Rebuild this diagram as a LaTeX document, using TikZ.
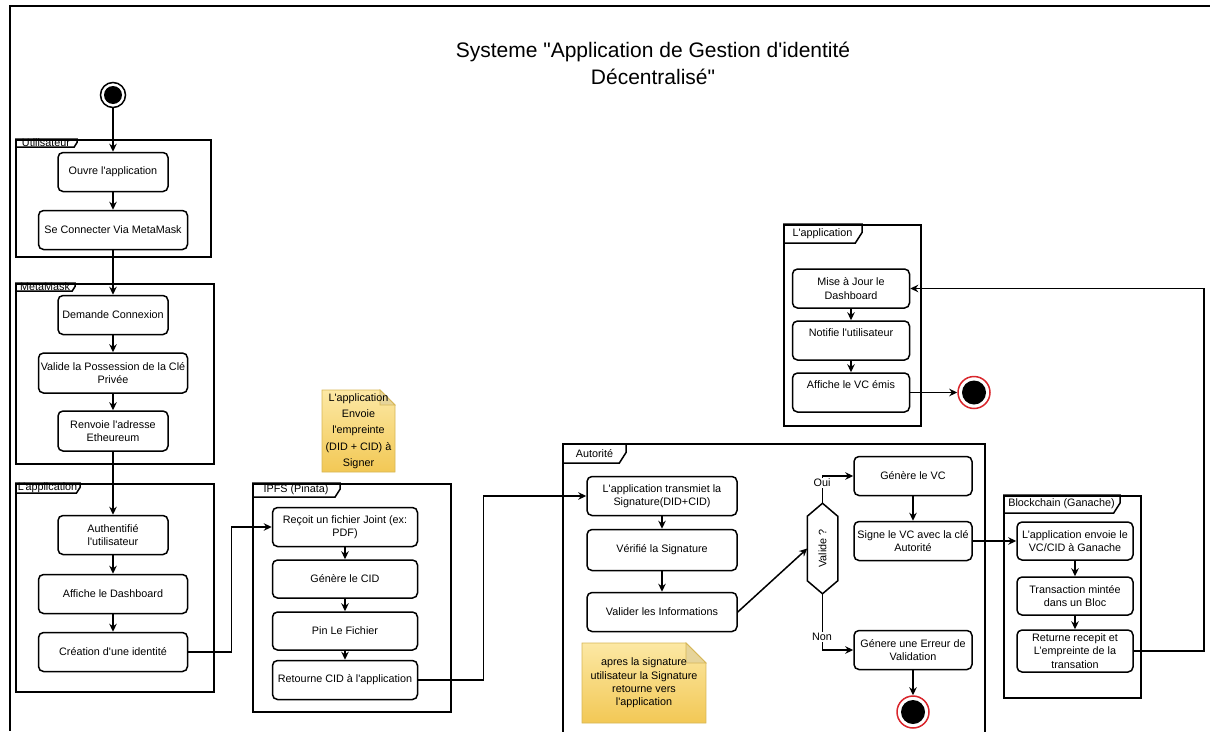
\documentclass[tikz,border=0pt]{standalone}
\usepackage{fontspec}
\newfontfamily\arialfont{Liberation Sans}
\usetikzlibrary{arrows.meta,calc}
\definecolor{noteTop}{HTML}{FCE8A4}
\definecolor{noteBot}{HTML}{F2C855}
\definecolor{noteLine}{HTML}{D6B656}
\definecolor{noteFold}{HTML}{E6D49A}
\definecolor{endRed}{HTML}{D9262C}
\newcommand\actfont{\arialfont\fontsize{10.8}{13.3}\selectfont}
% lane tab: #1 corner point, #2 tab width, #3 tab height, #4 node name, #5 label
\newcommand\lanetab[5]{%
  \draw[line width=1.5pt] #1 -- ++(#2,0) -- ++(0,{0.45*#3}) -- ++({-0.35*#3},{0.55*#3}) -- ($#1+(0,#3)$);
  \node[tabtext] (#4) at ($#1+({#2/2},{#3/2})$) {#5};}

\begin{document}
\begin{tikzpicture}[x=1pt,y=-1pt,line width=1.5pt,
  every node/.style={font=\actfont},
  act/.style={draw, rounded corners=5pt, align=center, inner sep=1pt, line width=1.5pt},
  lanebox/.style={draw, line width=1.5pt, anchor=north west, inner sep=0pt},
  tabtext/.style={inner sep=0pt},
  flow/.style={-{Stealth[length=8pt,width=7.5pt]}, line width=1.5pt},
  startdot/.style={circle, draw, fill=white, minimum size=25pt, inner sep=0pt, line width=1.5pt},
  enddot/.style={circle, draw=endRed, fill=white, minimum size=32pt, inner sep=0pt, line width=1.5pt},
  guard/.style={fill=white, inner sep=1pt},
  notetext/.style={align=center, inner sep=0pt},
  notebody/.style={top color=noteTop, bottom color=noteBot, draw=noteLine, line width=0.8pt},
]
\useasboundingbox (0,0) rectangle (1210,731);

% outer frame
\draw[line width=2.5pt] (1210,6) -- (10,6) -- (10,731);

% title
\node[font=\arialfont\fontsize{21}{27}\selectfont, align=center] (title) at (653,63.5)
  {Systeme "Application de Gestion d'identité\\Décentralisé"};

% swimlanes
\node[lanebox, minimum width=195pt, minimum height=117pt] (lUser) at (15,139) {};
\lanetab{(lUser.north west)}{62}{8}{tUser}{Utilisateur}
\node[lanebox, minimum width=198pt, minimum height=180pt] (lMeta) at (15,283) {};
\lanetab{(lMeta.north west)}{60}{8}{tMeta}{MetaMask}
\node[lanebox, minimum width=198pt, minimum height=208pt] (lApp) at (15,483) {};
\lanetab{(lApp.north west)}{65}{10}{tApp}{L’application}
\node[lanebox, minimum width=198pt, minimum height=228pt] (lIpfs) at (252,483) {};
\lanetab{(lIpfs.north west)}{88}{14}{tIpfs}{IPFS (Pinata)}
\draw (563,740) -- (563,444) -- (985,444) -- (985,740);
\coordinate (lAuth) at (563,444);
\lanetab{(lAuth)}{63}{19}{tAuth}{Autorité}
\node[lanebox, minimum width=137pt, minimum height=202pt] (lBc) at (1003,495) {};
\lanetab{(lBc.north west)}{117}{18}{tBc}{Blockchain (Ganache)}
\node[lanebox, minimum width=137pt, minimum height=201pt] (lTop) at (783,224) {};
\lanetab{(lTop.north west)}{79}{19}{tTop}{L'application}

% start state
\node[startdot] (start) at (113,95) {};
\fill (start.center) circle (9pt);

% Utilisateur
\node[act, minimum width=110pt, minimum height=39pt] (open) at (113,172) {Ouvre l'application};
\node[act, minimum width=149pt, minimum height=39pt] (connect) at (113,230) {Se Connecter Via MetaMask};

% MetaMask
\node[act, minimum width=110pt, minimum height=39pt] (ask) at (113,315) {Demande Connexion};
\node[act, minimum width=149pt, minimum height=40pt] (keychk) at (113,373) {Valide la Possession de la Clé\\Privée};
\node[act, minimum width=110pt, minimum height=40pt] (addr) at (113,431) {Renvoie l'adresse\\Etheureum};

% L'application (left)
\node[act, minimum width=110pt, minimum height=39pt] (auth) at (113,535) {Authentifié\\l'utilisateur};
\node[act, minimum width=149pt, minimum height=39pt] (dash) at (113,594) {Affiche le Dashboard};
\node[act, minimum width=149pt, minimum height=39pt] (ident) at (113,652) {Création d'une identité};

% IPFS
\node[act, minimum width=145pt, minimum height=39pt] (recv) at (345,527) {Reçoit un fichier Joint (ex:\\PDF)};
\node[act, minimum width=145pt, minimum height=38pt] (cid) at (345,579) {Génère le CID};
\node[act, minimum width=145pt, minimum height=38pt] (pin) at (345,631) {Pin Le Fichier};
\node[act, minimum width=145pt, minimum height=39pt] (ret) at (345,680) {Retourne CID à l'application};

% Autorité
\node[act, minimum width=150pt, minimum height=39pt] (send) at (662,496) {L'application transmiet la\\Signature(DID+CID)};
\node[act, minimum width=150pt, minimum height=41pt] (verif) at (662,550) {Vérifié la Signature};
\node[act, minimum width=150pt, minimum height=39pt] (infochk) at (662,612) {Valider les Informations};
\node[minimum width=29pt, minimum height=89pt, inner sep=0pt] (valid) at (822.5,548.5) {\rotatebox{90}{Valide ?}};
\draw (valid.north) -- ($(valid.north east)+(0,13)$) -- ($(valid.south east)+(0,-13)$)
  -- (valid.south) -- ($(valid.south west)+(0,-13)$) -- ($(valid.north west)+(0,13)$) -- cycle;
\node[act, minimum width=118pt, minimum height=39pt] (genvc) at (913,476) {Génère le VC};
\node[act, minimum width=118pt, minimum height=39pt] (sign) at (913,541) {Signe le VC avec la clé\\Autorité};
\node[act, minimum width=118pt, minimum height=39pt] (generr) at (913,650) {Génere une Erreur de\\Validation};
\node[enddot] (end1) at (913,712) {};
\fill (end1.center) circle (12pt);

% Blockchain
\node[act, minimum width=116pt, minimum height=38pt] (bcsend) at (1075,541) {L’application envoie le\\VC/CID à Ganache};
\node[act, minimum width=116pt, minimum height=38pt] (bcmint) at (1075,596) {Transaction mintée\\dans un Bloc};
\node[act, minimum width=116pt, minimum height=42pt] (bcret) at (1075,651) {Returne recepit et\\L’empreinte de la\\transation};

% L'application (top)
\node[act, minimum width=117pt, minimum height=39pt] (maj) at (851,288.5) {Mise à Jour le\\Dashboard};
\node[act, minimum width=117pt, minimum height=39pt] (notif) at (851,340.5) {};
\node (notiftxt) at (851,333) {Notifie l'utilisateur};
\node[act, minimum width=117pt, minimum height=39pt] (showvc) at (851,392.5) {};
\node (showvctxt) at (851,385) {Affiche le VC émis};
\node[enddot] (end2) at (974,392.5) {};
\fill (end2.center) circle (12pt);

% notes
\shade[notebody] (322,390) -- (380,390) -- (395,405) -- (395,472) -- (322,472) -- cycle;
\filldraw[fill=noteFold, draw=noteLine, line width=0.8pt] (380,390) -- (380,405) -- (395,405) -- cycle;
\node[notetext, font=\arialfont\fontsize{10.8}{16.3}\selectfont] (note1) at (358.5,431)
  {L'application\\Envoie\\l'empreinte\\(DID + CID) à\\Signer};
\shade[notebody] (582,643) -- (686,643) -- (706,663) -- (706,723) -- (582,723) -- cycle;
\filldraw[fill=noteFold, draw=noteLine, line width=0.8pt] (686,643) -- (686,663) -- (706,663) -- cycle;
\node[notetext] (note2) at (644,683)
  {apres la signature\\utilisateur la Signature\\retourne vers\\l'application};

% control flow
\draw[flow] (start) -- (open);
\draw[flow] (open) -- (connect);
\draw[flow] (connect) -- (ask);
\draw[flow] (ask) -- (keychk);
\draw[flow] (keychk) -- (addr);
\draw[flow] (addr) -- (auth);
\draw[flow] (auth) -- (dash);
\draw[flow] (dash) -- (ident);
\draw[flow] (ident.east) -- ++(43,0) |- (recv.west);
\draw[flow] (recv) -- (cid);
\draw[flow] (cid) -- (pin);
\draw[flow] (pin) -- (ret);
\draw[flow] (ret.east) -- ++(65,0) |- (send.west);
\draw[flow] (send) -- (verif);
\draw[flow] (verif) -- (infochk);
\draw[flow] (infochk.east) -- (valid.west);
\draw[flow] (valid.north) |- (genvc.west);
\draw[flow] (valid.south) |- (generr.west);
\draw[flow] (genvc) -- (sign);
\draw[flow] (generr) -- (end1);
\draw[flow] (sign.east) -- (bcsend.west);
\draw[flow] (bcsend) -- (bcmint);
\draw[flow] (bcmint) -- (bcret);
\draw[flow] (bcret.east) -- ++(70,0) |- (maj.east);
\draw[flow] (maj) -- (notif);
\draw[flow] (notif) -- (showvc);
\draw[flow] (showvc.east) -- (end2);

% guards
\node[guard] (gOui) at (822,483) {Oui};
\node[guard] (gNon) at (822,637) {Non};
\end{tikzpicture}
\end{document}
